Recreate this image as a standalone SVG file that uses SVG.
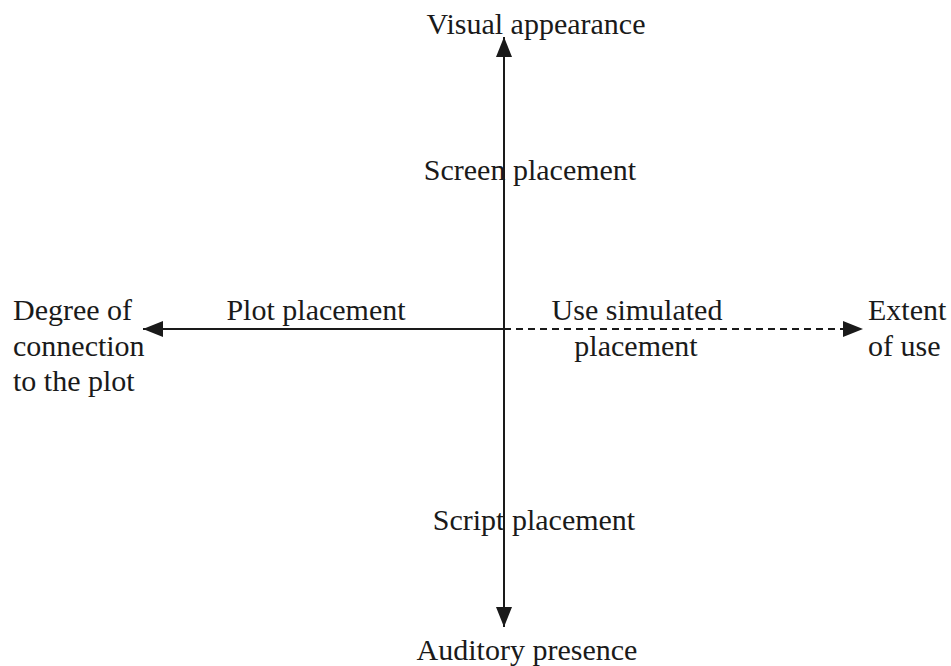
<svg xmlns="http://www.w3.org/2000/svg" width="951" height="666" viewBox="0 0 951 666">
<style>
text{font-family:"Liberation Serif","Times New Roman",serif;font-size:30px;fill:#1a1a1a}
.ax{stroke:#1a1a1a;stroke-width:2;fill:none}
.dash{stroke-dasharray:7,5}
</style>
<defs>
<marker id="ah" viewBox="0 0 20 16" refX="20" refY="8" markerWidth="20" markerHeight="16" markerUnits="userSpaceOnUse" orient="auto">
<path d="M0,0 L20,8 L0,16 Z" fill="#1a1a1a"/>
</marker>
</defs>
<rect width="951" height="666" fill="#fff"/>
<g id="connectors">
<line class="ax" x1="504" y1="329" x2="504" y2="37" marker-end="url(#ah)"/>
<line class="ax" x1="504" y1="329" x2="504" y2="627" marker-end="url(#ah)"/>
<line class="ax" x1="504" y1="329" x2="143" y2="329" marker-end="url(#ah)"/>
<line class="ax dash" x1="504" y1="329" x2="863" y2="329" marker-end="url(#ah)"/>
</g>
<g id="visual"><text x="536" y="34" text-anchor="middle">Visual appearance</text></g>
<g id="screen"><text x="530" y="180" text-anchor="middle">Screen placement</text></g>
<g id="plot"><text x="316" y="320" text-anchor="middle">Plot placement</text></g>
<g id="degree"><text x="13" y="320">Degree of</text><text x="13" y="356">connection</text><text x="13" y="391">to the plot</text></g>
<g id="simulated"><text x="637" y="320" text-anchor="middle">Use simulated</text><text x="636" y="356" text-anchor="middle">placement</text></g>
<g id="extent"><text x="868" y="320">Extent</text><text x="868" y="356">of use</text></g>
<g id="script"><text x="534" y="530" text-anchor="middle">Script placement</text></g>
<g id="auditory"><text x="527" y="660" text-anchor="middle">Auditory presence</text></g>
</svg>
